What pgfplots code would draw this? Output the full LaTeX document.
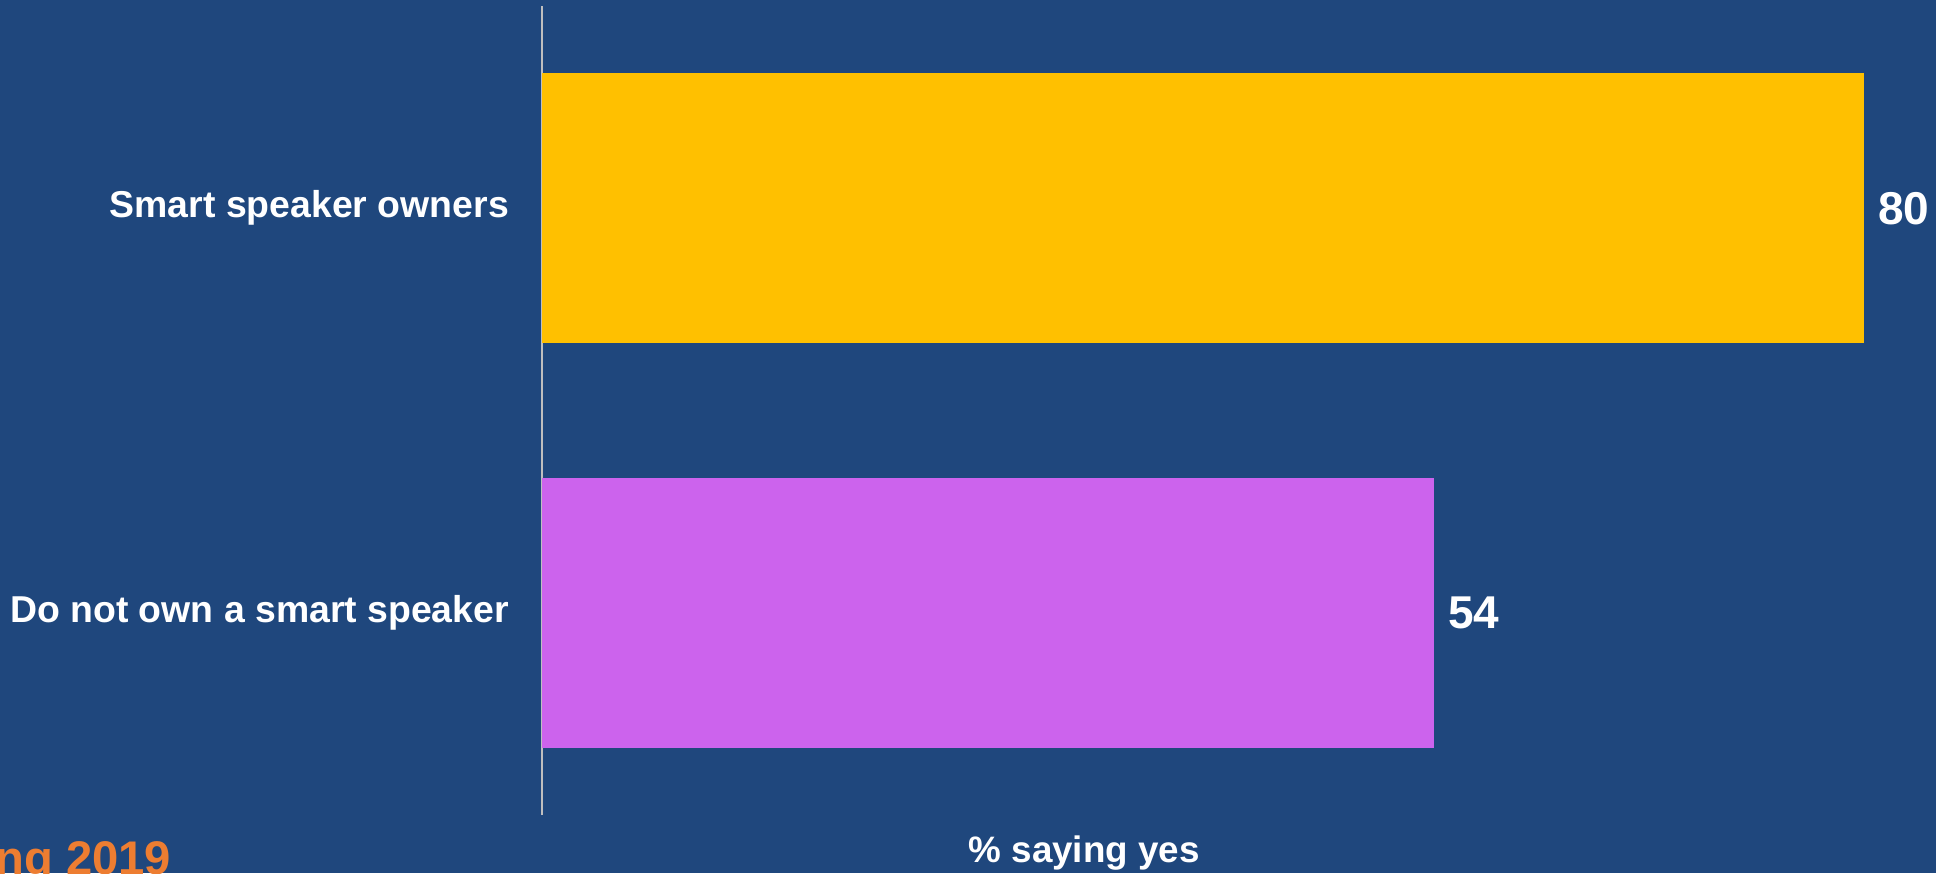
\documentclass[border=0pt]{standalone}
\usepackage{fontspec}
\setmainfont{Liberation Sans}
\usepackage{pgfplots}
\pgfplotsset{compat=1.18}
\definecolor{bg}{HTML}{1F477D}
\definecolor{baryel}{HTML}{FFC000}
\definecolor{barpur}{HTML}{CC63ED}
\definecolor{axgray}{HTML}{BFBFBF}
\definecolor{orng}{HTML}{ED7D31}
\begin{document}
\begin{tikzpicture}
\useasboundingbox (0,0) rectangle (968pt,436.5pt);
\clip (0,0) rectangle (968pt,436.5pt);
\fill[bg] (0,0) rectangle (968pt,436.5pt);
\begin{axis}[
  at={(271pt,29pt)}, anchor=south west,
  scale only axis, width=697pt, height=404.5pt,
  xbar, bar width=0.667, bar shift=0pt,
  xmin=0, xmax=84.36, ymin=-0.5, ymax=1.5,
  axis x line=none, axis y line=left,
  axis line style={-, draw=axgray, line width=1pt},
  ytick={0,1},
  yticklabels={Do not own a smart speaker, Smart speaker owners\hspace{3.7pt}},
  major tick length=0pt,
  yticklabel style={font=\fontsize{18.7}{22}\selectfont\bfseries, text=white, xshift=-13pt},
  clip mode=individual,
  nodes near coords={\pgfmathprintnumber[assume math mode=true]{\pgfplotspointmeta}},
  every node near coord/.append style={font=\fontsize{23}{26}\selectfont\bfseries, text=white, xshift=3.5pt},
]
\addplot[fill=baryel, draw=none] coordinates {(80,1)};
\addplot[fill=barpur, draw=none] coordinates {(54,0)};
\node[font=\fontsize{18.4}{22}\selectfont\bfseries, text=white, anchor=base, inner sep=0pt] at (axis description cs:0.389,0) [yshift=-23.5pt] {\% saying yes};
\end{axis}
\node[anchor=base west, text=orng, font=\fontsize{23.6}{28}\selectfont\bfseries, inner sep=0pt] at (-2.5pt,-0.5pt) {ng 2019};
\end{tikzpicture}
\end{document}
